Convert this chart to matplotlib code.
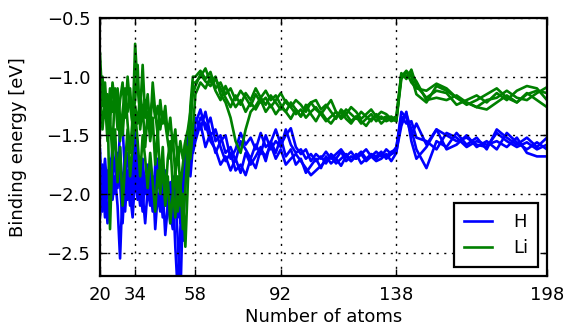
import numpy as np
import matplotlib
matplotlib.use("Agg")
import matplotlib.pyplot as plt

# cluster sizes: every atom up to 57, every second atom to 138, coarser beyond
atoms_small = list(range(20, 58))
atoms_mid = list(range(58, 139, 2))
atoms_large = [140, 142, 144, 146, 150, 154, 158, 162, 166, 170, 174, 178, 182, 186, 190, 194, 198]
atoms = atoms_small + atoms_mid + atoms_large

xticks = [20, 34, 58, 92, 138, 198]
yticks = [-2.5, -2.0, -1.5, -1.0, -0.5]

# binding energies of an H adsorbate (eV), four adsorption sites
h_site1 = [-1.62, -2.15, -1.95, -1.80, -2.05, -1.88, -1.70, -1.95, -1.42, -1.42,
           -1.85, -2.05, -1.75, -1.95, -1.60, -1.90, -2.10, -1.80, -1.95, -1.75,
           -2.05, -1.90, -1.85, -2.10, -1.95, -2.20, -1.90, -2.05, -2.25, -1.95,
           -2.45, -2.85, -2.30, -1.80, -1.60, -1.50, -1.75, -1.55,
           -1.40, -1.28, -1.45, -1.35, -1.55, -1.50, -1.65, -1.60, -1.72, -1.55,
           -1.62, -1.70, -1.58, -1.66, -1.50, -1.62, -1.55, -1.60, -1.45, -1.58,
           -1.65, -1.62, -1.70, -1.66, -1.72, -1.68, -1.74, -1.66, -1.70, -1.64,
           -1.72, -1.68, -1.70, -1.66, -1.72, -1.68, -1.70, -1.66, -1.68, -1.64, -1.62,
           -1.30, -1.35, -1.50, -1.40, -1.58, -1.45, -1.50, -1.55, -1.52, -1.58,
           -1.60, -1.48, -1.55, -1.60, -1.56, -1.62, -1.58]
h_site2 = [-2.05, -1.80, -2.20, -1.90, -1.70, -2.05, -1.85, -2.10, -2.55, -1.95,
           -2.15, -1.80, -2.00, -2.20, -1.85, -2.05, -1.75, -2.00, -2.25, -1.95,
           -2.10, -1.85, -2.30, -2.00, -2.15, -1.95, -2.35, -2.10, -1.90, -2.20,
           -2.00, -2.40, -2.90, -2.10, -1.70, -1.55, -1.85, -1.60,
           -1.50, -1.35, -1.40, -1.55, -1.62, -1.75, -1.68, -1.80, -1.70, -1.82,
           -1.65, -1.75, -1.68, -1.60, -1.72, -1.55, -1.65, -1.52, -1.68, -1.62,
           -1.75, -1.70, -1.82, -1.76, -1.70, -1.78, -1.68, -1.74, -1.70, -1.76,
           -1.68, -1.72, -1.66, -1.74, -1.70, -1.68, -1.72, -1.70, -1.66, -1.72, -1.65,
           -1.36, -1.32, -1.45, -1.62, -1.78, -1.55, -1.60, -1.48, -1.58, -1.52,
           -1.62, -1.45, -1.52, -1.58, -1.52, -1.60, -1.52]
h_site3 = [-1.90, -1.75, -1.95, -2.25, -1.85, -1.60, -1.80, -1.75, -1.60, -2.00,
           -1.70, -1.90, -2.10, -1.80, -1.45, -1.70, -1.95, -2.15, -1.85, -2.00,
           -1.80, -2.05, -1.90, -1.70, -2.00, -1.85, -2.10, -1.90, -2.15, -2.30,
           -1.95, -2.20, -2.00, -2.40, -1.80, -1.50, -1.65, -1.50,
           -1.35, -1.45, -1.30, -1.50, -1.45, -1.60, -1.72, -1.65, -1.80, -1.75,
           -1.84, -1.70, -1.78, -1.62, -1.68, -1.58, -1.70, -1.62, -1.75, -1.70,
           -1.66, -1.72, -1.78, -1.84, -1.80, -1.76, -1.72, -1.68, -1.74, -1.70,
           -1.66, -1.72, -1.68, -1.64, -1.70, -1.66, -1.68, -1.64, -1.70, -1.66, -1.64,
           -1.42, -1.30, -1.55, -1.70, -1.60, -1.45, -1.62, -1.58, -1.50, -1.60,
           -1.55, -1.62, -1.48, -1.56, -1.62, -1.56, -1.62]
h_site4 = [-2.20, -1.95, -1.70, -2.00, -2.10, -1.80, -2.00, -1.65, -1.90, -2.25,
           -1.85, -1.65, -1.90, -2.05, -1.80, -2.00, -1.85, -1.70, -2.00, -1.85,
           -1.95, -2.15, -1.75, -1.95, -1.85, -2.05, -1.80, -2.15, -2.00, -1.85,
           -2.10, -1.95, -2.25, -1.95, -1.65, -1.85, -1.55, -1.65,
           -1.55, -1.40, -1.60, -1.48, -1.65, -1.55, -1.50, -1.70, -1.62, -1.48,
           -1.58, -1.52, -1.62, -1.48, -1.60, -1.56, -1.45, -1.58, -1.50, -1.44,
           -1.60, -1.66, -1.62, -1.72, -1.66, -1.70, -1.64, -1.70, -1.66, -1.62,
           -1.68, -1.64, -1.70, -1.66, -1.62, -1.68, -1.64, -1.68, -1.62, -1.66, -1.60,
           -1.34, -1.40, -1.38, -1.52, -1.55, -1.62, -1.48, -1.52, -1.60, -1.55,
           -1.58, -1.55, -1.60, -1.52, -1.65, -1.68, -1.68]

# binding energies of a Li adsorbate (eV), same four sites
li_site1 = [-0.80, -1.25, -1.05, -1.40, -1.10, -1.30, -1.15, -1.45, -1.20, -1.05,
            -1.35, -1.00, -1.25, -1.40, -0.72, -1.10, -1.30, -0.90, -1.35, -1.15,
            -1.45, -1.05, -1.30, -1.50, -1.20, -1.40, -1.25, -1.50, -1.35, -1.60,
            -1.45, -1.75, -1.55, -1.70, -1.55, -1.80, -1.25, -1.00,
            -1.00, -0.95, -1.02, -0.96, -1.10, -1.05, -1.15, -1.10, -1.20, -1.12,
            -1.18, -1.25, -1.15, -1.22, -1.18, -1.26, -1.20, -1.14, -1.22, -1.26,
            -1.20, -1.24, -1.30, -1.22, -1.28, -1.32, -1.26, -1.20, -1.30, -1.34,
            -1.28, -1.32, -1.36, -1.30, -1.34, -1.38, -1.32, -1.36, -1.34, -1.38, -1.36,
            -1.00, -0.95, -1.00, -1.15, -1.22, -1.08, -1.12, -1.18, -1.22, -1.26,
            -1.28, -1.22, -1.16, -1.22, -1.14, -1.20, -1.26]
li_site2 = [-1.30, -1.05, -1.35, -1.20, -2.30, -1.60, -1.10, -1.25, -1.55, -1.30,
            -1.10, -1.40, -1.65, -1.35, -1.20, -0.90, -1.45, -1.25, -1.60, -1.30,
            -1.55, -1.35, -1.75, -1.45, -1.90, -1.60, -2.05, -1.70, -1.55, -1.95,
            -2.20, -1.85, -2.10, -2.00, -2.45, -1.90, -1.50, -1.05,
            -1.05, -1.00, -0.93, -1.05, -1.00, -1.15, -1.22, -1.35, -1.55, -1.65,
            -1.45, -1.30, -1.25, -1.18, -1.24, -1.16, -1.22, -1.28, -1.20, -1.26,
            -1.32, -1.28, -1.35, -1.30, -1.26, -1.32, -1.38, -1.34, -1.30, -1.36,
            -1.32, -1.38, -1.34, -1.40, -1.36, -1.32, -1.38, -1.34, -1.38, -1.36, -1.38,
            -0.97, -1.02, -0.94, -1.08, -1.18, -1.12, -1.14, -1.24, -1.20, -1.16,
            -1.22, -1.14, -1.20, -1.12, -1.08, -1.10, -1.20]
li_site3 = [-1.10, -1.45, -1.20, -1.55, -1.35, -1.70, -1.45, -1.90, -1.60, -2.10,
            -1.75, -1.45, -1.85, -1.60, -1.30, -1.55, -1.85, -1.50, -1.70, -1.95,
            -1.65, -1.90, -2.15, -1.80, -2.00, -1.75, -2.10, -1.85, -2.25, -2.00,
            -1.80, -2.15, -1.90, -2.30, -1.95, -1.60, -1.70, -1.45,
            -1.15, -1.05, -1.10, -1.00, -1.12, -1.20, -1.08, -1.18, -1.26, -1.20,
            -1.30, -1.22, -1.28, -1.20, -1.30, -1.24, -1.32, -1.26, -1.30, -1.36,
            -1.28, -1.34, -1.24, -1.32, -1.38, -1.30, -1.36, -1.40, -1.34, -1.30,
            -1.36, -1.40, -1.34, -1.38, -1.42, -1.36, -1.34, -1.40, -1.36, -1.34, -1.38,
            -1.02, -0.96, -1.05, -1.10, -1.12, -1.06, -1.10, -1.18, -1.24, -1.20,
            -1.15, -1.10, -1.18, -1.22, -1.15, -1.12, -1.14]
li_site4 = [-1.20, -1.00, -1.30, -1.15, -1.40, -1.05, -1.25, -1.10, -1.35, -1.50,
            -1.20, -1.30, -1.10, -1.45, -1.25, -1.40, -1.15, -1.30, -1.20, -1.40,
            -1.30, -1.20, -1.35, -1.25, -1.45, -1.30, -1.40, -1.55, -1.70, -1.50,
            -1.85, -1.60, -1.95, -1.75, -1.55, -1.45, -1.30, -1.15,
            -1.08, -0.98, -1.04, -1.08, -1.02, -1.10, -1.18, -1.26, -1.16, -1.24,
            -1.14, -1.20, -1.10, -1.18, -1.12, -1.20, -1.16, -1.24, -1.30, -1.22,
            -1.28, -1.34, -1.26, -1.22, -1.20, -1.28, -1.24, -1.30, -1.36, -1.28,
            -1.32, -1.26, -1.30, -1.36, -1.32, -1.28, -1.34, -1.30, -1.32, -1.36, -1.34,
            -0.98, -1.00, -0.98, -1.04, -1.20, -1.18, -1.20, -1.16, -1.22, -1.26,
            -1.20, -1.18, -1.12, -1.18, -1.20, -1.14, -1.09]

h_sites = [h_site1, h_site2, h_site3, h_site4]
li_sites = [li_site1, li_site2, li_site3, li_site4]

plt.rcParams.update({
    "font.family": ["DejaVu Sans"],
    "font.size": 13,
    "xtick.direction": "in",
    "ytick.direction": "in",
    "xtick.top": True,
    "ytick.right": True,
    "xtick.major.size": 5,
    "ytick.major.size": 5,
    "xtick.major.width": 1.0,
    "ytick.major.width": 1.0,
    "xtick.major.pad": 7,
    "ytick.major.pad": 7,
    "axes.linewidth": 1.6,
})

fig = plt.figure(figsize=(5.69, 3.33), dpi=100)
ax = fig.add_axes([0.1757, 0.171, 0.7856, 0.775])

for i, ys in enumerate(h_sites):
    ax.plot(atoms, ys, color="#0000ff", lw=1.9, label="H" if i == 0 else None)
for i, ys in enumerate(li_sites):
    ax.plot(atoms, ys, color="#008000", lw=1.9, label="Li" if i == 0 else None)

ax.set_xlim(20, 198)
ax.set_ylim(-2.7, -0.5)
ax.set_xticks(xticks)
ax.set_yticks(yticks)
ax.grid(True, color="k", linestyle=(0, (1.5, 4)), linewidth=1.0)
ax.set_axisbelow(False)

ax.set_xlabel("Number of atoms", labelpad=3)
ax.set_ylabel("Binding energy [eV]", labelpad=14)

leg = ax.legend(loc="lower right", fancybox=False, edgecolor="k",
                framealpha=1.0, handlelength=1.55, borderaxespad=0.5,
                handletextpad=1.15, labelspacing=0.45, borderpad=0.55)
leg.get_frame().set_linewidth(1.6)

fig.savefig("out.png", dpi=100)
